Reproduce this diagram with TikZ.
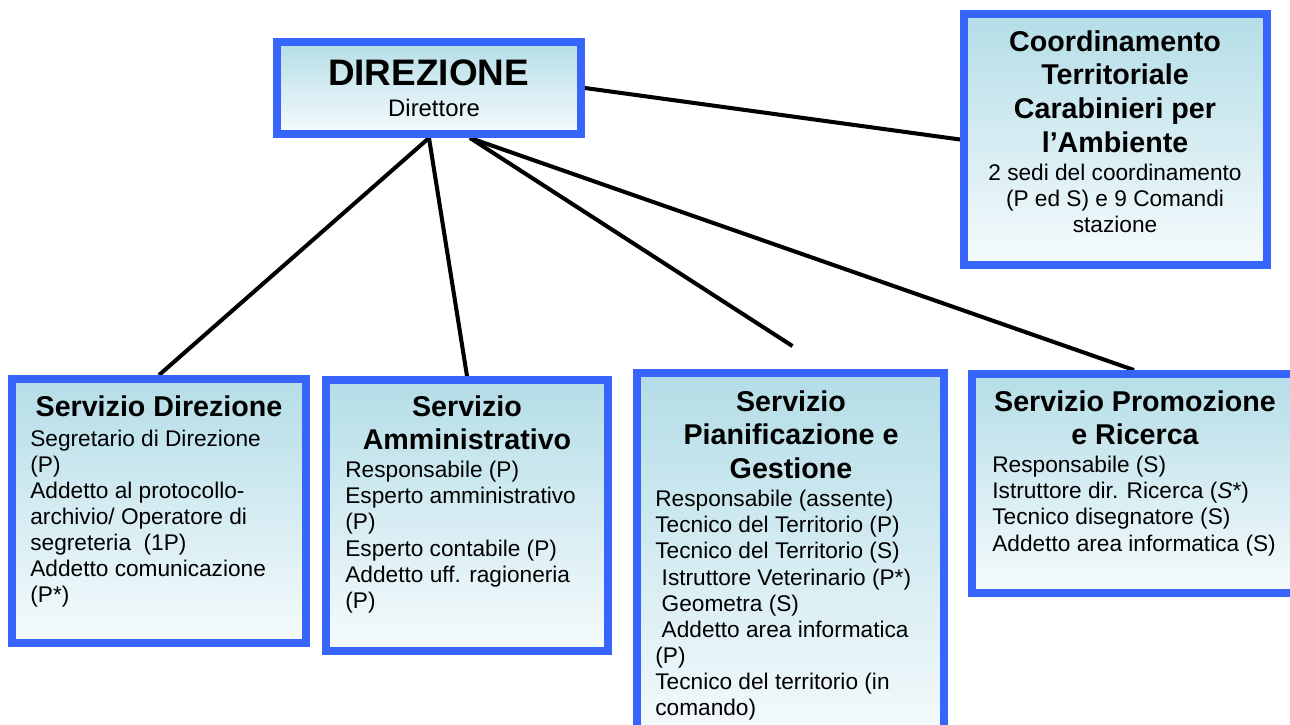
\documentclass[tikz,border=0pt]{standalone}
\usepackage{fontspec}
\setmainfont{Liberation Sans}
\usetikzlibrary{calc,backgrounds}
\definecolor{boxblue}{RGB}{55,100,250}
\definecolor{boxtop}{RGB}{180,221,231}
\definecolor{boxbot}{RGB}{246,251,253}
\tikzset{
  box/.style 2 args={draw=boxblue, line width=4.5pt, top color=boxtop, bottom color=boxbot,
    minimum width=#1*0.02cm, minimum height=#2*0.02cm, inner sep=0pt},
  hd/.style={font=\fontsize{16.3}{19.2}\selectfont\bfseries, align=center, anchor=north, inner sep=0pt},
  bd/.style={font=\fontsize{12.9}{14.85}\selectfont, align=left, anchor=north west, inner sep=0pt},
  link/.style={line width=2.3pt}
}

\begin{document}
\begin{tikzpicture}[x=0.02cm,y=-0.02cm]
\useasboundingbox (0,0) rectangle (1290,724);
\clip (0,0) rectangle (1290,724);
% boxes
\node[box={304}{92}] (dir) at (429,88) {};
\node[box={303}{251}] (coord) at (1115.5,139.5) {};
\node[box={294}{264}] (sdir) at (159,511) {};
\node[box={282}{271}] (samm) at (467,515.5) {};
\node[box={307}{377}] (spia) at (790.5,561.5) {};
\node[box={324}{219}] (sprom) at (1134,483.5) {};
% links
\begin{scope}[on background layer]
\draw[link] (dir.south) -- (sdir.north);
\draw[link] (dir.south) -- (samm.north);
\draw[link] ($(dir.south)+(41,0)$) -- ($(spia.north)+(2,-23)$);
\draw[link] ($(dir.south)+(41,0)$) -- (sprom.north);
\draw[link] (dir.east) -- (coord.west);
\end{scope}
% texts
\node[font=\fontsize{21}{24}\selectfont\bfseries, anchor=base, inner sep=0pt] (dirT) at (428.5,85) {DIREZIONE};
\node[font=\fontsize{13.6}{16}\selectfont, anchor=base, inner sep=0pt] (dirS) at (434,116) {Direttore};
\node[hd] (coordT) at (1115,30) {Coordinamento\\Territoriale\\Carabinieri per\\l’Ambiente};
\node[bd, align=center, anchor=north] (coordB) at (1115,164) {2 sedi del coordinamento\\(P ed S) e 9 Comandi\\stazione};
\node[hd] (sdirT) at (159,395) {Servizio Direzione};
\node[bd] (sdirB) at (30,429.4) {Segretario di Direzione\\(P)\\Addetto al protocollo-\\archivio/ Operatore di\\segreteria~ (1P)\\Addetto comunicazione\\(P*)};
\node[hd] (sammT) at (467,395) {Servizio\\Amministrativo};
\node[bd] (sammB) at (345,461) {Responsabile (P)\\Esperto amministrativo\\(P)\\Esperto contabile (P)\\Addetto uff. ragioneria\\(P)};
\node[hd] (spiaT) at (791,390) {Servizio\\Pianificazione e\\Gestione};
\node[bd] (spiaB) at (655,490) {Responsabile (assente)\\Tecnico del Territorio (P)\\Tecnico del Territorio (S)\\\hspace*{0.28em}Istruttore Veterinario (P*)\\\hspace*{0.28em}Geometra (S)\\\hspace*{0.28em}Addetto area informatica\\(P)\\Tecnico del territorio (in\\comando)};
\node[hd] (spromT) at (1135,390) {Servizio Promozione\\e Ricerca};
\node[bd] (spromB) at (992,456) {Responsabile (S)\\Istruttore dir. Ricerca (\textit{S}*)\\Tecnico disegnatore (S)\\Addetto area informatica (S)};
\end{tikzpicture}
\end{document}
